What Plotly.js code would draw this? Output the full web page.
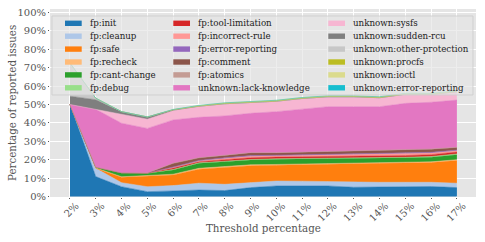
<!DOCTYPE html>
<html>
<head>
<meta charset="utf-8">
<script src="https://cdn.plot.ly/plotly-3.0.1.min.js"></script>
<style>html,body{margin:0;padding:0;background:#fff;}#chart{width:485px;height:242px;}</style>
</head>
<body>
<div id="chart"></div>
<script>
// Categories (threshold)
const thresholds = ["2%","3%","4%","5%","6%","7%","8%","9%","10%","11%","12%","13%","14%","15%","16%","17%"];

// Series values (percentage of reported issues), stacked bottom to top
const fpInit              = [50, 10.8, 5.3, 2.6, 3.0, 3.5, 3.2, 4.8, 5.7, 5.5, 5.7, 5.0, 5.2, 5.6, 5.4, 4.8];
const fpCleanup           = [0, 4.5, 2.2, 2.7, 2.9, 3.7, 3.4, 2.9, 2.7, 2.8, 2.3, 3.0, 2.5, 2.1, 2.3, 2.4];
const fpSafe              = [0, 0, 2.9, 5.8, 5.8, 7.6, 9.3, 9.0, 8.6, 9.0, 9.7, 9.9, 10.3, 10.5, 10.7, 12.3];
const fpRecheck           = [0, 0.2, 0.3, 0.3, 0.4, 0.5, 0.5, 0.5, 0.4, 0.4, 0.4, 0.4, 0.4, 0.4, 0.4, 0.5];
const fpCantChange        = [0, 0.5, 2.2, 1.2, 2.3, 2.7, 2.5, 2.6, 2.8, 2.6, 2.3, 2.3, 2.4, 2.4, 2.5, 2.6];
const fpDebug             = [0, 0, 0, 0, 0.3, 0.3, 0.3, 0.3, 0.3, 0.3, 0.3, 0.3, 0.3, 0.3, 0.4, 0.5];
const fpToolLimitation    = [0, 0, 0, 0.2, 0.8, 0.6, 0.8, 0.9, 0.9, 0.9, 0.9, 0.8, 0.8, 0.9, 1.0, 1.0];
const fpIncorrectRule     = [0, 0, 0, 0, 0.3, 0.4, 0.6, 0.8, 0.7, 0.8, 0.9, 0.9, 0.9, 0.9, 0.9, 0.8];
const fpErrorReporting    = [0, 0, 0, 0, 0.2, 0.3, 0.4, 0.4, 0.3, 0.3, 0.4, 0.4, 0.4, 0.4, 0.4, 0.3];
const fpComment           = [0, 0, 0, 0, 2.0, 1.4, 1.3, 1.5, 1.3, 1.4, 1.5, 1.5, 1.6, 1.7, 1.7, 1.4];
const fpAtomics           = [0, 0, 0, 0, 0, 0, 0.1, 0.1, 0.1, 0.1, 0.1, 0.1, 0.1, 0.1, 0.1, 0.1];
const unLackKnowledge     = [0, 31.4, 26.9, 24.2, 23.6, 22.0, 21.4, 21.4, 22.3, 23.5, 24.3, 24.2, 23.9, 25.3, 25.4, 25.7];
const unSysfs             = [0, 0, 4.9, 5.0, 5.0, 5.8, 6.3, 5.8, 5.4, 5.4, 5.1, 5.1, 4.6, 4.7, 4.1, 4.2];
const unSuddenRcu         = [4.5, 5.2, 1.4, 1.2, 0.5, 0.3, 0.3, 0.3, 0.3, 0.3, 0.3, 0.3, 0.3, 0.3, 0.3, 0.3];
const unOtherProtection   = [18, 0.8, 0, 0, 0, 0, 0, 0, 0, 0, 0, 0, 0, 0, 0, 0];
const unProcfs            = [0, 0, 0, 0, 0, 0.1, 0.2, 0.2, 0.2, 0.2, 0.2, 0.2, 0.2, 0.2, 0.2, 0.2];
const unIoctl             = [0, 0, 0, 0, 0.2, 0.3, 0.3, 0.3, 0.3, 0.3, 0.3, 0.3, 0.3, 0.3, 0.3, 0.3];
const unErrorReporting    = [0, 0, 0, 0, 0, 0, 0, 0, 0, 0, 0, 0, 0, 0, 0, 0];

const seriesNames = ["fp:init","fp:cleanup","fp:safe","fp:recheck","fp:cant-change","fp:debug",
  "fp:tool-limitation","fp:incorrect-rule","fp:error-reporting","fp:comment","fp:atomics",
  "unknown:lack-knowledge","unknown:sysfs","unknown:sudden-rcu","unknown:other-protection",
  "unknown:procfs","unknown:ioctl","unknown:error-reporting"];
const seriesValues = [fpInit, fpCleanup, fpSafe, fpRecheck, fpCantChange, fpDebug,
  fpToolLimitation, fpIncorrectRule, fpErrorReporting, fpComment, fpAtomics,
  unLackKnowledge, unSysfs, unSuddenRcu, unOtherProtection, unProcfs, unIoctl, unErrorReporting];
const yTickVals = [0,10,20,30,40,50,60,70,80,90,100];

// Styles
const colors = ["#1f77b4","#aec7e8","#ff7f0e","#ffbb78","#2ca02c","#98df8a","#d62728","#ff9896",
  "#9467bd","#8c564b","#c49c94","#e377c2","#f7b6d2","#7f7f7f","#c7c7c7","#bcbd22","#dbdb8d","#17becf"];

const W = 485, H = 242;
const M = {l: 50, r: 9, t: 9, b: 45};
const PW = W - M.l - M.r, PH = H - M.t - M.b;
const px = x => (x - M.l) / PW;
const py = y => (H - M.b - y) / PH;
const FONT = "DejaVu Serif, serif";

const traces = seriesNames.map((name, i) => ({
  type: "scatter",
  x: thresholds,
  y: seriesValues[i],
  name: name,
  stackgroup: "one",
  mode: "lines",
  line: {width: 0.5, color: colors[i]},
  fillcolor: colors[i],
  showlegend: false,
  hoverinfo: "skip"
}));

// Manual legend (3 columns x 6 rows)
const shapes = [];
const annotations = [];
shapes.push({type: "rect", xref: "paper", yref: "paper", layer: "above",
  x0: px(52), x1: px(473), y0: py(95), y1: py(16),
  fillcolor: "rgba(229,229,229,0.7)", line: {color: "rgba(204,204,204,0.8)", width: 1}});
const colSwatchX = [65, 173.3, 328.3];
const rowY0 = 23.3, rowStep = 12.9;
seriesNames.forEach((name, i) => {
  const c = Math.floor(i / 6), r = i % 6;
  const cy = rowY0 + r * rowStep;
  const sx = colSwatchX[c];
  shapes.push({type: "rect", xref: "paper", yref: "paper", layer: "above",
    x0: px(sx), x1: px(sx + 16.7), y0: py(cy + 2.7), y1: py(cy - 2.7),
    fillcolor: colors[i], line: {width: 0}});
  annotations.push({xref: "paper", yref: "paper", x: px(sx + 22.5), y: py(cy),
    xanchor: "left", yanchor: "middle", text: name, showarrow: false,
    font: {family: FONT, size: 8.7, color: "#222"}});
});

// Axis titles placed as annotations to match position
annotations.push({xref: "paper", yref: "paper", x: px(263), y: py(228),
  xanchor: "center", yanchor: "middle", text: "Threshold percentage", showarrow: false,
  font: {family: FONT, size: 10.3, color: "#555"}});
annotations.push({xref: "paper", yref: "paper", x: px(12), y: py(103),
  xanchor: "center", yanchor: "middle", text: "Percentage of reported issues", showarrow: false,
  textangle: -90, font: {family: FONT, size: 10.3, color: "#555"}});

const layout = {
  width: W, height: H,
  margin: M,
  paper_bgcolor: "#ffffff",
  plot_bgcolor: "#E5E5E5",
  showlegend: false,
  font: {family: FONT, size: 10, color: "#555"},
  xaxis: {
    type: "category",
    range: [-0.775, 15.74],
    showgrid: true, gridcolor: "#ffffff", gridwidth: 1,
    zeroline: false, showline: false,
    ticks: "outside", ticklen: 1, tickcolor: "#555",
    tickangle: -45,
    ticklabelshift: 6,
    ticklabelstandoff: -3,
    tickfont: {family: FONT, size: 10, color: "#555"}
  },
  yaxis: {
    range: [-0.3, 101.9],
    tickvals: yTickVals,
    ticktext: yTickVals.map(v => v + "%"),
    showgrid: true, gridcolor: "#ffffff", gridwidth: 1,
    zeroline: false, showline: false,
    ticks: "outside", ticklen: 1, tickcolor: "#555",
    tickfont: {family: FONT, size: 10, color: "#555"}
  },
  shapes: shapes,
  annotations: annotations
};

Plotly.newPlot("chart", traces, layout, {displayModeBar: false, staticPlot: true});
</script>
</body>
</html>
